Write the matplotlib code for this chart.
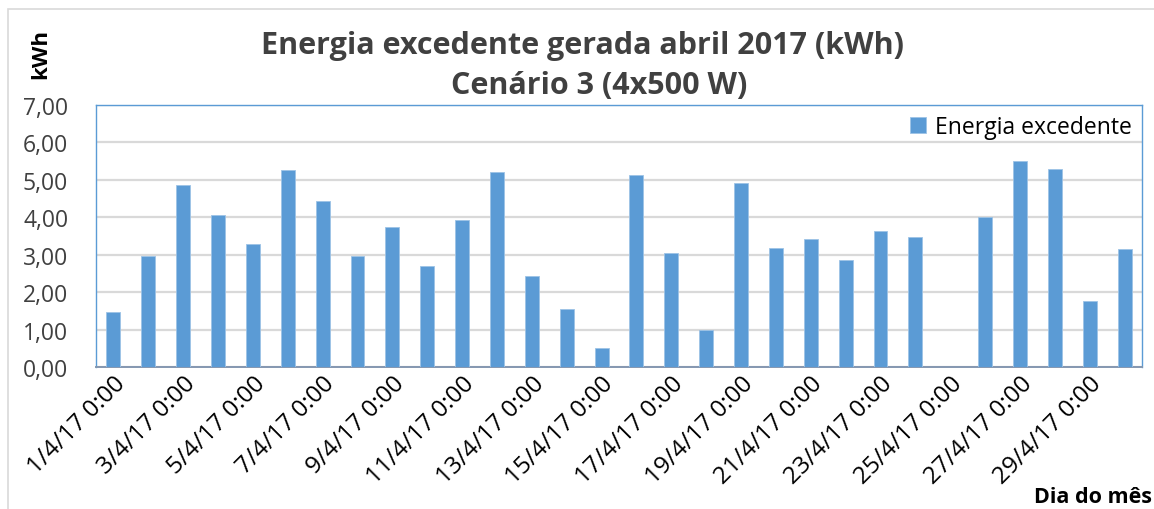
import matplotlib.pyplot as plt
from matplotlib.ticker import FuncFormatter, MultipleLocator
from matplotlib.patches import Rectangle

# Excess energy per day, April 2017 (kWh)
days = list(range(1, 31))
energia = [1.46, 2.96, 4.86, 4.07, 3.28, 5.26, 4.43, 2.96, 3.75, 2.71,
           3.93, 5.22, 2.43, 1.56, 0.50, 5.12, 3.04, 0.98, 4.91, 3.19,
           3.43, 2.86, 3.63, 3.47, 0.00, 4.01, 5.50, 5.28, 1.76, 3.16]
tick_labels = [f"{d}/4/17 0:00" for d in days]

bar_color = "#5B9BD5"
text_gray = "#404040"
font = "Open Sans"

fig = plt.figure(figsize=(11.54, 5.10), dpi=100)
ax = fig.add_axes([0.0832, 0.2784, 0.9064, 0.5138])

x = list(range(len(days)))
ax.bar(x, energia, width=0.4, color=bar_color, edgecolor="#9DC3E6",
       linewidth=0.6, label="Energia excedente", zorder=3)

ax.set_xlim(-0.5, len(days) - 0.5)
ax.set_ylim(0, 7)
ax.yaxis.set_major_locator(MultipleLocator(1))
ax.yaxis.set_major_formatter(FuncFormatter(lambda v, p: f"{v:.2f}".replace(".", ",")))
ax.grid(axis="y", color="#D9D9D9", linewidth=1.6, zorder=0)

ax.set_xticks(x[::2])
ax.set_xticklabels(tick_labels[::2], rotation=45, ha="right", va="top",
                   rotation_mode="anchor", fontsize=17.5, family=font, color="black")
ax.tick_params(axis="x", length=0, pad=3)
ax.tick_params(axis="y", length=0, pad=20, labelsize=16.5, labelcolor=text_gray)
for lbl in ax.get_yticklabels():
    lbl.set_family(font)

for side in ("top", "left", "right"):
    ax.spines[side].set_color(bar_color)
    ax.spines[side].set_linewidth(1.0)
ax.spines["bottom"].set_color("#8497B0")
ax.spines["bottom"].set_linewidth(1.4)

leg = ax.legend(loc="upper right", frameon=False, handlelength=0.7, handleheight=0.7,
                handletextpad=0.4, borderaxespad=0.05,
                prop={"family": font, "size": 16.5})

fig.text(0.505, 0.91, "Energia excedente gerada abril 2017 (kWh)", ha="center",
         va="center", fontsize=22, fontweight="bold", family=font, color=text_gray)
fig.text(0.519, 0.831, "Cenário 3 (4x500 W)", ha="center", va="center",
         fontsize=22, fontweight="bold", family=font, color=text_gray)
fig.text(0.035, 0.895, "kWh", rotation=90, ha="center", va="center",
         fontsize=16, fontweight="bold", family=font, color="black")
fig.text(0.947, 0.025, "Dia do mês", ha="center", va="center",
         fontsize=15.5, fontweight="bold", family=font, color="black")

# light chart-area frame
fig.patches.append(Rectangle((8 / 1154, -0.1), 1.2, 1.1 - 10 / 510,
                             transform=fig.transFigure, fill=False,
                             edgecolor="#D9D9D9", linewidth=1.2))

fig.savefig("out.png", dpi=100)
